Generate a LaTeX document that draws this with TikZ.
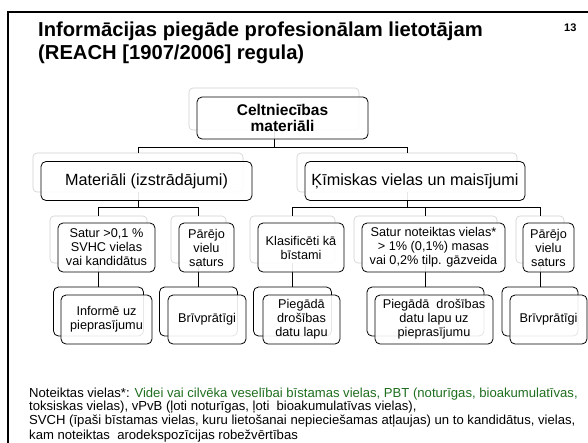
\documentclass[tikz,border=0pt]{standalone}
\usepackage{fontspec}
\setmainfont{Liberation Sans}
\definecolor{fngreen}{RGB}{30,110,30}
\tikzset{
  backbox/.style={draw=black!18, fill=white, rounded corners=4pt, line width=0.6pt, inner sep=0pt},
  backdark/.style={draw=black, fill=white, rounded corners=5pt, line width=0.8pt, inner sep=0pt},
  frontbox/.style={draw=black, fill=white, fill opacity=0.9, text opacity=1, rounded corners=5pt, line width=0.8pt, inner sep=0pt, align=center},
  conn/.style={draw=black, line width=0.75pt},
  topfont/.style={font=\bfseries\fontsize{15.5}{15.5}\selectfont},
  lvltwo/.style={font=\fontsize{16.2}{17}\selectfont},
  lvlthree/.style={font=\fontsize{12.7}{14}\selectfont},
  fnline/.style={anchor=base west, inner sep=0pt, font=\fontsize{13.1}{13}\selectfont},
  titleline/.style={anchor=base west, inner sep=0pt, font=\bfseries\fontsize{20.2}{22}\selectfont}
}
\begin{document}
\begin{tikzpicture}[x=1pt,y=-1pt]
\useasboundingbox (0,0) rectangle (588,442);
\clip (0,0) rectangle (588,442);
\fill[white] (0,0) rectangle (588,442);
% frame
\draw[line width=1.8pt] (620,11.8) -- (7.6,11.8) -- (7.6,470);
% title
\node[titleline] (t1) at (38,36) {Informācijas piegāde profesionālam lietotājam};
\node[titleline] (t2) at (38,59) {(REACH [1907/2006] regula)};
\node[anchor=base west, inner sep=0pt, font=\bfseries\fontsize{11}{12}\selectfont] (pg) at (564,31) {13};
% back boxes
\node[backbox, minimum width=170pt, minimum height=42pt] (b0) at (274,109) {};
\node[backbox, minimum width=210pt, minimum height=39pt] (b1) at (138,172.5) {};
\node[backbox, minimum width=220pt, minimum height=39pt] (b2) at (407,172.5) {};
\node[backbox, minimum width=97pt, minimum height=47pt] (b3a) at (98.5,239.5) {};
\node[backbox, minimum width=55pt, minimum height=47pt] (b3b) at (198.5,239.5) {};
\node[backbox, minimum width=85pt, minimum height=47pt] (b3c) at (292.5,239.5) {};
\node[backbox, minimum width=143pt, minimum height=47pt] (b3d) at (425.5,239.5) {};
\node[backbox, minimum width=48pt, minimum height=47pt] (b3e) at (540,239.5) {};
\node[backdark, minimum width=90pt, minimum height=49pt] (b4a) at (98.5,311.5) {};
\node[backdark, minimum width=78pt, minimum height=49pt] (b4b) at (198.5,311.5) {};
\node[backdark, minimum width=78pt, minimum height=49pt] (b4c) at (292.5,311.5) {};
\node[backdark, minimum width=117pt, minimum height=49pt] (b4d) at (425.5,311.5) {};
\node[backdark, minimum width=76pt, minimum height=49pt] (b4e) at (540,311.5) {};
% connectors
\draw[conn] (b0.south) -- ++(0,17) -| (b1.north);
\draw[conn] (b0.south) -- ++(0,17) -| (b2.north);
\draw[conn] (b1.south) -- ++(0,15) -| (b3a.north);
\draw[conn] (b1.south) -- ++(0,15) -| (b3b.north);
\draw[conn] (b2.south) -- ++(0,15.5) -| (b3c.north);
\draw[conn] (b2.south) -- ++(0,15.5) -| (b3d.north);
\draw[conn] (b2.south) -- ++(0,15.5) -| (b3e.north);
\draw[conn] (b3a.south) -- (b4a.north);
\draw[conn] (b3b.south) -- (b4b.north);
\draw[conn] (b3c.south) -- (b4c.north);
\draw[conn] (b3d.south) -- (b4d.north);
\draw[conn] (b3e.south) -- (b4e.north);
% front boxes
\node[frontbox, topfont, minimum width=171pt, minimum height=42pt] (f0) at (282.5,118) {Celtniecības\\materiāli};
\node[frontbox, lvltwo, minimum width=211pt, minimum height=39pt] (f1) at (146.5,181) {Materiāli (izstrādājumi)};
\node[frontbox, lvltwo, minimum width=220pt, minimum height=39pt] (f2) at (415,181) {Ķīmiskas vielas un maisījumi};
\node[frontbox, lvlthree, minimum width=97pt, minimum height=49pt] (f3a) at (106.5,247.5) {Satur >0,1 \%\\SVHC vielas\\vai kandidātus};
\node[frontbox, lvlthree, minimum width=55pt, minimum height=49pt] (f3b) at (206.5,247.5) {Pārējo\\vielu\\saturs};
\node[frontbox, lvlthree, minimum width=86pt, minimum height=49pt] (f3c) at (301,247.5) {Klasificēti kā\\bīstami};
\node[frontbox, lvlthree, minimum width=143pt, minimum height=49pt] (f3d) at (433.5,247.5) {Satur noteiktas vielas*\\> 1\% (0,1\%) masas\\vai 0,2\% tilp. gāzveida};
\node[frontbox, lvlthree, minimum width=51pt, minimum height=49pt] (f3e) at (548.5,247.5) {Pārējo\\vielu\\saturs};
\node[frontbox, lvlthree, minimum width=91pt, minimum height=49pt] (f4a) at (106.5,319.5) {Informē uz\\pieprasījumu};
\node[frontbox, lvlthree, minimum width=78pt, minimum height=49pt] (f4b) at (207,319.5) {Brīvprātīgi};
\node[frontbox, lvlthree, minimum width=77pt, minimum height=49pt] (f4c) at (301.5,319.5) {Piegādā\\drošības\\datu lapu};
\node[frontbox, lvlthree, minimum width=118pt, minimum height=49pt] (f4d) at (434,319.5) {Piegādā~ drošības\\datu lapu uz\\pieprasījumu};
\node[frontbox, lvlthree, minimum width=77pt, minimum height=49pt] (f4e) at (548.5,319.5) {Brīvprātīgi};
% footnote
\node[fnline] (fn1) at (29,397.5) {Noteiktas vielas*: \textcolor{fngreen}{Videi vai cilvēka veselībai bīstamas vielas, PBT (noturīgas, bioakumulatīvas,}};
\node[fnline] (fn2) at (29,410.8) {toksiskas vielas), vPvB (ļoti noturīgas, ļoti~ bioakumulatīvas vielas),};
\node[fnline] (fn3) at (29,424.1) {SVCH (īpaši bīstamas vielas, kuru lietošanai nepieciešamas atļaujas) un to kandidātus, vielas,};
\node[fnline] (fn4) at (29,439.5) {kam noteiktas~ arodekspozīcijas robežvērtības};
\end{tikzpicture}
\end{document}
